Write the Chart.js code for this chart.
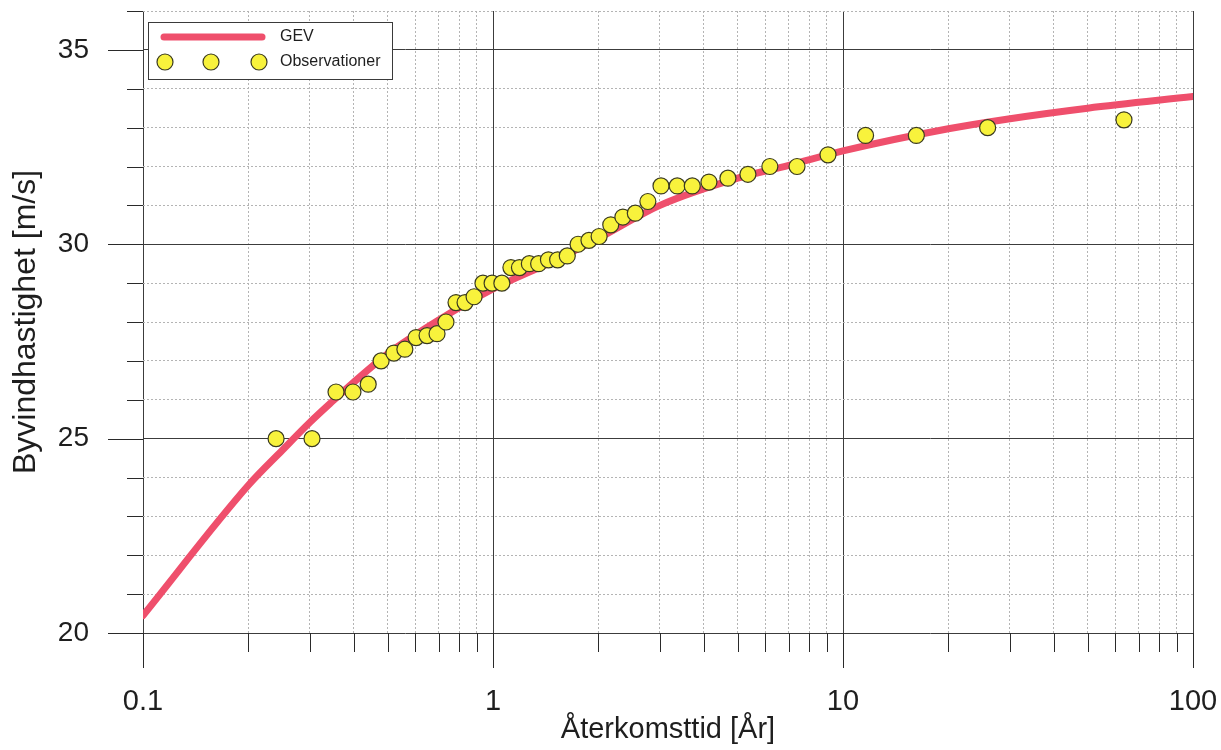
<!DOCTYPE html>
<html>
<head>
<meta charset="utf-8">
<script src="https://cdn.jsdelivr.net/npm/chart.js@4"></script>
<style>
  html, body { margin: 0; padding: 0; background: #ffffff; }
  #wrap { width: 1221px; height: 750px; }
</style>
</head>
<body>
<div id="wrap"><canvas id="c" width="1221" height="750"></canvas></div>
<script>
// ---- data ----
const gevReturnPeriods = [0.1, 0.2, 0.25, 0.3, 0.35, 0.4, 0.5, 0.7, 1, 1.5, 2, 3, 5, 7, 10, 20, 30, 50, 100];
const gevSpeeds        = [20.45, 23.8, 24.7, 25.42, 25.98, 26.45, 27.18, 28.05, 28.85, 29.58, 30.15, 31.0, 31.7, 32.03, 32.4, 32.97, 33.23, 33.5, 33.8];

const obsReturnPeriods = [0.24, 0.304, 0.356, 0.398, 0.44, 0.479, 0.521, 0.56, 0.603, 0.648, 0.692, 0.734, 0.784, 0.832, 0.883,
                          0.936, 0.994, 1.06, 1.125, 1.19, 1.27, 1.35, 1.44, 1.53, 1.63, 1.75, 1.88, 2.01, 2.17, 2.35,
                          2.55, 2.77, 3.02, 3.36, 3.71, 4.14, 4.69, 5.35, 6.18, 7.39, 9.06, 11.6, 16.2, 25.9, 63.5];
const obsSpeeds        = [25.0, 25.0, 26.2, 26.2, 26.4, 27.0, 27.2, 27.3, 27.6, 27.65, 27.7, 28.0, 28.5, 28.5, 28.65,
                          29.0, 29.0, 29.0, 29.4, 29.4, 29.5, 29.5, 29.6, 29.6, 29.7, 30.0, 30.1, 30.2, 30.5, 30.7,
                          30.8, 31.1, 31.5, 31.5, 31.5, 31.6, 31.7, 31.8, 32.0, 32.0, 32.3, 32.8, 32.8, 33.0, 33.2];

const xTickValues = [0.1,0.2,0.3,0.4,0.5,0.6,0.7,0.8,0.9,1,2,3,4,5,6,7,8,9,10,20,30,40,50,60,70,80,90,100];
const xTickLabels = {0.1: '0.1', 1: '1', 10: '10', 100: '100'};
const yTickValues = [20,21,22,23,24,25,26,27,28,29,30,31,32,33,34,35,36];
const yTickLabels = {20: '20', 25: '25', 30: '30', 35: '35'};

const seriesNames = ['GEV', 'Observationer'];
const xTitle = 'Återkomsttid [År]';
const yTitle = 'Byvindhastighet [m/s]';

// ---- styles ----
const LINE_COLOR = '#ef4f6c';
const POINT_FILL = '#f8f23c';
const POINT_EDGE = '#3a3a20';
const MAJOR_GRID = '#3c3c3c';
const MINOR_GRID = '#b4b4b4';
const FONT = "'Liberation Sans', Arial, Helvetica, sans-serif";

const isXMajor = v => Math.abs(Math.log10(v) - Math.round(Math.log10(v))) < 1e-6;
const isYMajor = v => v % 5 === 0;

Chart.defaults.font.family = FONT;
Chart.defaults.color = '#1e1e1e';

const zeroPad = s => { s.paddingTop = 0; s.paddingBottom = 0; s.paddingLeft = 0; s.paddingRight = 0; };

const tickMarksPlugin = {
  id: 'tickMarks',
  afterDraw(chart) {
    const {ctx, chartArea: a} = chart;
    const xs = chart.scales.x, ys = chart.scales.y;
    ctx.save();
    ctx.strokeStyle = '#2a2a2a';
    ctx.lineWidth = 1;
    ctx.beginPath();
    xTickValues.forEach(v => {
      const px = Math.round(xs.getPixelForValue(v)) + 0.5;
      const len = isXMajor(v) ? 35 : 19;
      ctx.moveTo(px, a.bottom);
      ctx.lineTo(px, a.bottom + len);
    });
    yTickValues.forEach(v => {
      const py = Math.round(ys.getPixelForValue(v)) + 0.5;
      const len = isYMajor(v) ? 35 : 16;
      ctx.moveTo(a.left - len, py);
      ctx.lineTo(a.left, py);
    });
    ctx.stroke();
    ctx.restore();
  }
};

const boxLegendPlugin = {
  id: 'boxLegend',
  afterDraw(chart) {
    const {ctx, chartArea: a} = chart;
    const bx = a.left + 5, by = a.top + 11, bw = 244, bh = 57;
    ctx.save();
    ctx.fillStyle = '#ffffff';
    ctx.fillRect(bx, by, bw, bh);
    ctx.strokeStyle = '#3a3a3a';
    ctx.lineWidth = 1;
    ctx.strokeRect(bx + 0.5, by + 0.5, bw, bh);
    const ly = by + 15;
    ctx.strokeStyle = LINE_COLOR;
    ctx.lineWidth = 7;
    ctx.lineCap = 'round';
    ctx.beginPath();
    ctx.moveTo(bx + 16, ly);
    ctx.lineTo(bx + 114, ly);
    ctx.stroke();
    const py = by + 40;
    [bx + 17, bx + 63, bx + 111].forEach(cx => {
      ctx.beginPath();
      ctx.arc(cx, py, 8, 0, Math.PI * 2);
      ctx.fillStyle = POINT_FILL;
      ctx.fill();
      ctx.lineWidth = 1.2;
      ctx.strokeStyle = POINT_EDGE;
      ctx.stroke();
    });
    ctx.fillStyle = '#1e1e1e';
    ctx.font = '16px ' + FONT;
    ctx.textBaseline = 'middle';
    ctx.textAlign = 'left';
    ctx.fillText(seriesNames[0], bx + 132, ly);
    ctx.fillText(seriesNames[1], bx + 132, py);
    ctx.restore();
  }
};

new Chart(document.getElementById('c'), {
  type: 'scatter',
  data: {
    datasets: [
      {
        label: seriesNames[1],
        data: obsReturnPeriods.map((x, i) => ({x, y: obsSpeeds[i]})),
        pointRadius: 8,
        pointBackgroundColor: POINT_FILL,
        pointBorderColor: POINT_EDGE,
        pointBorderWidth: 1.2,
        showLine: false,
        order: 0
      },
      {
        label: seriesNames[0],
        data: gevReturnPeriods.map((x, i) => ({x, y: gevSpeeds[i]})),
        showLine: true,
        borderColor: LINE_COLOR,
        borderWidth: 7,
        pointRadius: 0,
        cubicInterpolationMode: 'monotone',
        borderCapStyle: 'round',
        order: 1
      }
    ]
  },
  options: {
    responsive: false,
    animation: false,
    layout: { padding: { left: 0, top: 11, right: 28, bottom: 0 } },
    plugins: { legend: { display: false }, tooltip: { enabled: false } },
    scales: {
      x: {
        type: 'logarithmic',
        min: 0.1, max: 100,
        afterBuildTicks: s => { s.ticks = xTickValues.map(v => ({value: v})); },
        afterFit: s => { s.height = 117; zeroPad(s); },
        ticks: {
          autoSkip: false, maxRotation: 0, minRotation: 0,
          padding: 52,
          font: { size: 29 },
          callback: v => xTickLabels[v] !== undefined ? xTickLabels[v] : ''
        },
        grid: {
          drawTicks: false,
          lineWidth: 1,
          color: c => (c.tick && isXMajor(c.tick.value)) ? MAJOR_GRID : MINOR_GRID
        },
        border: {
          display: false,
          dash: c => (c.tick && !isXMajor(c.tick.value)) ? [2, 2] : []
        },
        title: {
          display: true, text: xTitle,
          font: { size: 29 },
          padding: { top: 0, bottom: 3 }
        }
      },
      y: {
        min: 20, max: 36,
        afterBuildTicks: s => { s.ticks = yTickValues.map(v => ({value: v})); },
        afterFit: s => { s.width = 143; zeroPad(s); },
        ticks: {
          autoSkip: false,
          padding: 54,
          font: { size: 28 },
          callback: v => yTickLabels[v] !== undefined ? yTickLabels[v] : ''
        },
        grid: {
          drawTicks: false,
          lineWidth: 1,
          color: c => (c.tick && isYMajor(c.tick.value)) ? MAJOR_GRID : MINOR_GRID
        },
        border: {
          display: false,
          dash: c => (c.tick && !isYMajor(c.tick.value)) ? [2, 2] : []
        },
        title: {
          display: true, text: yTitle,
          font: { size: 32 },
          padding: { top: 7, bottom: 0 }
        }
      }
    }
  },
  plugins: [tickMarksPlugin, boxLegendPlugin]
});
</script>
</body>
</html>
